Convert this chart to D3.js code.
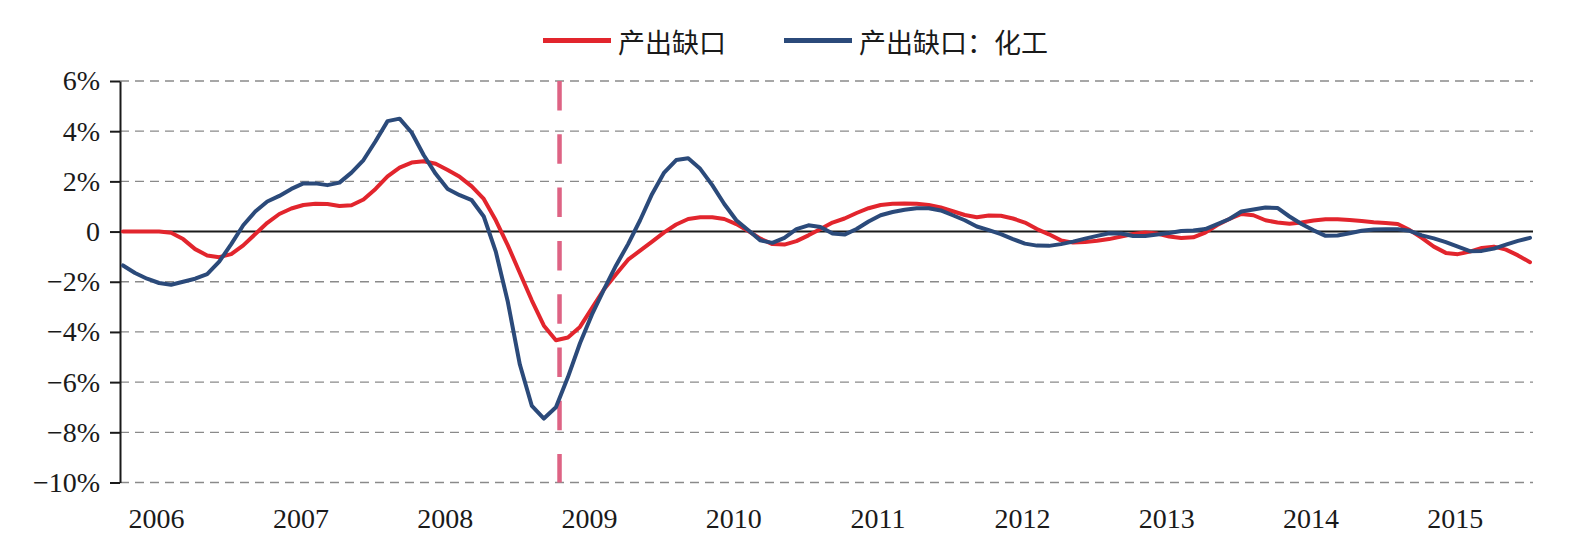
<!DOCTYPE html>
<html><head><meta charset="utf-8">
<script src="https://cdn.jsdelivr.net/npm/d3@7"></script>
<style>html,body{margin:0;padding:0;background:#fff;} svg{display:block;}</style>
</head><body><svg id="chart" width="1586" height="556"></svg>
<script>
// ---- data (monthly, first point = April 2006) ----
const firstMonthIndex = 3; // months since Jan 2006 (April 2006)
const years = [2006, 2007, 2008, 2009, 2010, 2011, 2012, 2013, 2014, 2015];
const yTicks = [-10, -8, -6, -4, -2, 0, 2, 4, 6];
const seriesNames = ["产出缺口", "产出缺口：化工"];
const markerMonthIndex = 39.3; // dashed marker, April 2009 (months since Jan 2006)

const outputGap = [
  0, 0, 0, 0, -0.05, -0.3, -0.7, -0.95, -1.02, -0.9,
  -0.55, -0.1, 0.35, 0.7, 0.92, 1.06, 1.11, 1.1, 1.02, 1.05,
  1.28, 1.7, 2.2, 2.55, 2.75, 2.8, 2.7, 2.45, 2.18, 1.8,
  1.3, 0.45, -0.55, -1.65, -2.75, -3.75, -4.33, -4.22, -3.8, -3.05,
  -2.3, -1.7, -1.12, -0.76, -0.4, -0.03, 0.28, 0.5, 0.57, 0.57,
  0.5, 0.3, 0.02, -0.28, -0.5, -0.52, -0.38, -0.15, 0.1, 0.36,
  0.52, 0.74, 0.93, 1.06, 1.11, 1.12, 1.11, 1.06, 0.96, 0.81,
  0.66, 0.57, 0.64, 0.63, 0.52, 0.36, 0.1, -0.11, -0.35, -0.44,
  -0.42, -0.37, -0.3, -0.2, -0.1, -0.04, -0.08, -0.2, -0.26, -0.23,
  -0.04, 0.26, 0.5, 0.7, 0.65, 0.45, 0.36, 0.31, 0.36, 0.44,
  0.49, 0.49, 0.46, 0.42, 0.37, 0.34, 0.3, 0.06, -0.25, -0.6,
  -0.85, -0.9, -0.8, -0.65, -0.6, -0.72, -0.95, -1.22
];
const chemGap = [
  -1.35, -1.65, -1.88, -2.05, -2.12, -2.0, -1.88, -1.7, -1.2, -0.5,
  0.25, 0.8, 1.2, 1.42, 1.7, 1.92, 1.92, 1.85, 1.95, 2.35,
  2.85, 3.6, 4.4, 4.5, 3.95, 3.05, 2.3, 1.7, 1.45, 1.25,
  0.6, -0.8, -2.8, -5.3, -6.95, -7.45, -7.0, -5.8, -4.45, -3.3,
  -2.3, -1.35, -0.5, 0.45, 1.5, 2.35, 2.85, 2.92, 2.5, 1.85,
  1.1, 0.45, 0.05, -0.35, -0.45, -0.25, 0.1, 0.25, 0.18, -0.08,
  -0.12, 0.1, 0.4, 0.65, 0.78, 0.87, 0.93, 0.93, 0.84, 0.65,
  0.45, 0.2, 0.06, -0.1, -0.3, -0.48, -0.56, -0.57, -0.5, -0.4,
  -0.28, -0.17, -0.07, -0.08, -0.18, -0.18, -0.12, -0.06, 0.02, 0.04,
  0.1, 0.3, 0.5, 0.8, 0.88, 0.96, 0.94, 0.6, 0.3, 0.05,
  -0.17, -0.16, -0.07, 0.03, 0.08, 0.09, 0.09, 0.03, -0.15, -0.27,
  -0.42, -0.6, -0.78, -0.77, -0.68, -0.52, -0.37, -0.25
];

// ---- drawing ----
const svg = d3.select("#chart");
const colors = ["#e2252d", "#2b4a7a"];
const serif = "'Liberation Serif','Times New Roman',serif";
const cjk = "'Noto Sans CJK SC','Noto Sans',sans-serif";

const lastIdx = firstMonthIndex + outputGap.length - 1;
const x = d3.scaleLinear().domain([firstMonthIndex, lastIdx]).range([123, 1530]);
const y = d3.scaleLinear().domain([-10, 6]).range([482.5, 81]);
const left = 120, right = 1533;

svg.append("rect").attr("width", 1586).attr("height", 556).attr("fill", "#fff");

// gridlines
svg.append("g").selectAll("line").data(yTicks.filter(d => d !== 0)).join("line")
  .attr("x1", left).attr("x2", right)
  .attr("y1", d => y(d)).attr("y2", d => y(d))
  .attr("stroke", "#8a8a8a").attr("stroke-width", 1.3)
  .attr("stroke-dasharray", "9,6");

// marker dashed vertical line
svg.append("line")
  .attr("x1", x(markerMonthIndex)).attr("x2", x(markerMonthIndex))
  .attr("y1", y(6)).attr("y2", y(-10))
  .attr("stroke", "#de6384").attr("stroke-width", 4.5)
  .attr("stroke-dasharray", "29.5,23.8");

// zero line
svg.append("line").attr("x1", left).attr("x2", right)
  .attr("y1", y(0)).attr("y2", y(0))
  .attr("stroke", "#1a1a1a").attr("stroke-width", 2);

// y axis
const yAxis = svg.append("g").attr("transform", `translate(${left},0)`)
  .call(d3.axisLeft(y).tickValues(yTicks).tickSize(10).tickSizeOuter(0).tickPadding(10)
    .tickFormat(d => d === 0 ? "0" : (d < 0 ? "\u2212" : "") + Math.abs(d) + "%"));
yAxis.select(".domain").attr("stroke", "#1a1a1a").attr("stroke-width", 2);
yAxis.selectAll(".tick line").attr("stroke", "#1a1a1a").attr("stroke-width", 2);
yAxis.selectAll("text").attr("font-family", serif).attr("font-size", 28).attr("fill", "#1a1a1a");

// x axis labels (mid-year)
const xAxis = svg.append("g").attr("transform", "translate(0,500)")
  .call(d3.axisBottom(x).tickValues(years.map(yr => (yr - 2006) * 12 + 5.75))
    .tickSize(0).tickPadding(8).tickFormat((d, i) => years[i]));
xAxis.select(".domain").remove();
xAxis.selectAll("text").attr("font-family", serif).attr("font-size", 28).attr("fill", "#1a1a1a");

// series lines
const line = d3.line().x((d, i) => x(firstMonthIndex + i)).y(d => y(d));
[outputGap, chemGap].forEach((s, k) => {
  svg.append("path").datum(s).attr("d", line)
    .attr("fill", "none").attr("stroke", colors[k]).attr("stroke-width", 4)
    .attr("stroke-linejoin", "round").attr("stroke-linecap", "round");
});

// legend
const legendItems = [{x0: 543, x1: 611, tx: 618}, {x0: 784, x1: 852, tx: 859}];
legendItems.forEach((it, k) => {
  svg.append("line").attr("x1", it.x0).attr("x2", it.x1).attr("y1", 40.5).attr("y2", 40.5)
    .attr("stroke", colors[k]).attr("stroke-width", 5);
  svg.append("text").attr("x", it.tx).attr("y", 41).attr("dominant-baseline", "central")
    .attr("font-family", cjk).attr("font-size", 27).attr("fill", "#1a1a1a")
    .text(seriesNames[k]);
});
</script>
</body></html>
